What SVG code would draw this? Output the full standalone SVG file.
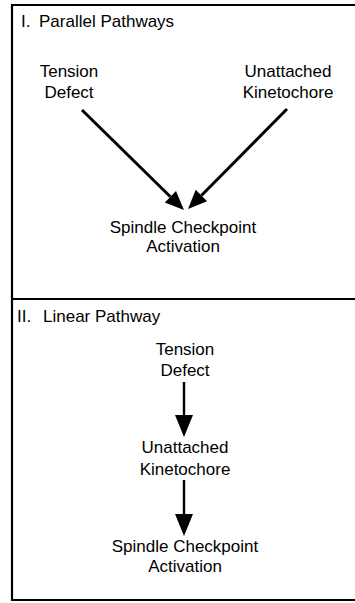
<svg xmlns="http://www.w3.org/2000/svg" width="355" height="603" viewBox="0 0 355 603">
<style>
text{font-family:"Liberation Sans",Arial,sans-serif;font-size:17px;fill:#000}
.c{text-anchor:middle}
.frame{stroke:#000;stroke-width:2.2;fill:none}
.a1{stroke:#000;stroke-width:3;fill:none}
.a2{stroke:#000;stroke-width:2.4;fill:none}
</style>
<defs>
<marker id="hs" markerUnits="userSpaceOnUse" orient="auto" refX="0" refY="0" overflow="visible">
<path d="M0,-8 L19,0 L0,8 Z" fill="#000"/>
</marker>
<marker id="hl" markerUnits="userSpaceOnUse" orient="auto" refX="0" refY="0" overflow="visible">
<path d="M0,-9 L22,0 L0,9 Z" fill="#000"/>
</marker>
</defs>
<rect width="355" height="603" fill="#fff"/>
<g id="frame">
<path class="frame" d="M360,5 H12 V600 H360 M12,299 H360"/>
</g>
<g id="title1"><text x="21" y="27">I.</text><text x="39" y="27">Parallel Pathways</text></g>
<g id="title2"><text x="17" y="322">II.</text><text x="43" y="322">Linear Pathway</text></g>
<g id="p1-tension"><text class="c" x="69" y="77">Tension</text><text class="c" x="69" y="98">Defect</text></g>
<g id="p1-unattached"><text class="c" x="288" y="77">Unattached</text><text class="c" x="288" y="98">Kinetochore</text></g>
<g id="p1-spindle"><text class="c" x="183" y="233">Spindle Checkpoint</text><text class="c" x="183" y="252">Activation</text></g>
<g id="p2-tension"><text class="c" x="185" y="355">Tension</text><text class="c" x="185" y="376">Defect</text></g>
<g id="p2-unattached"><text class="c" x="185" y="453">Unattached</text><text class="c" x="185" y="475">Kinetochore</text></g>
<g id="p2-spindle"><text class="c" x="185" y="552">Spindle Checkpoint</text><text class="c" x="185" y="572">Activation</text></g>
<g id="connectors">
<line class="a1" x1="82" y1="110" x2="170.4" y2="196.7" marker-end="url(#hs)"/>
<line class="a1" x1="287" y1="109" x2="201.4" y2="195.5" marker-end="url(#hs)"/>
<line class="a2" x1="184" y1="382" x2="184" y2="415" marker-end="url(#hl)"/>
<line class="a2" x1="184" y1="480" x2="184" y2="514" marker-end="url(#hl)"/>
</g>
</svg>
